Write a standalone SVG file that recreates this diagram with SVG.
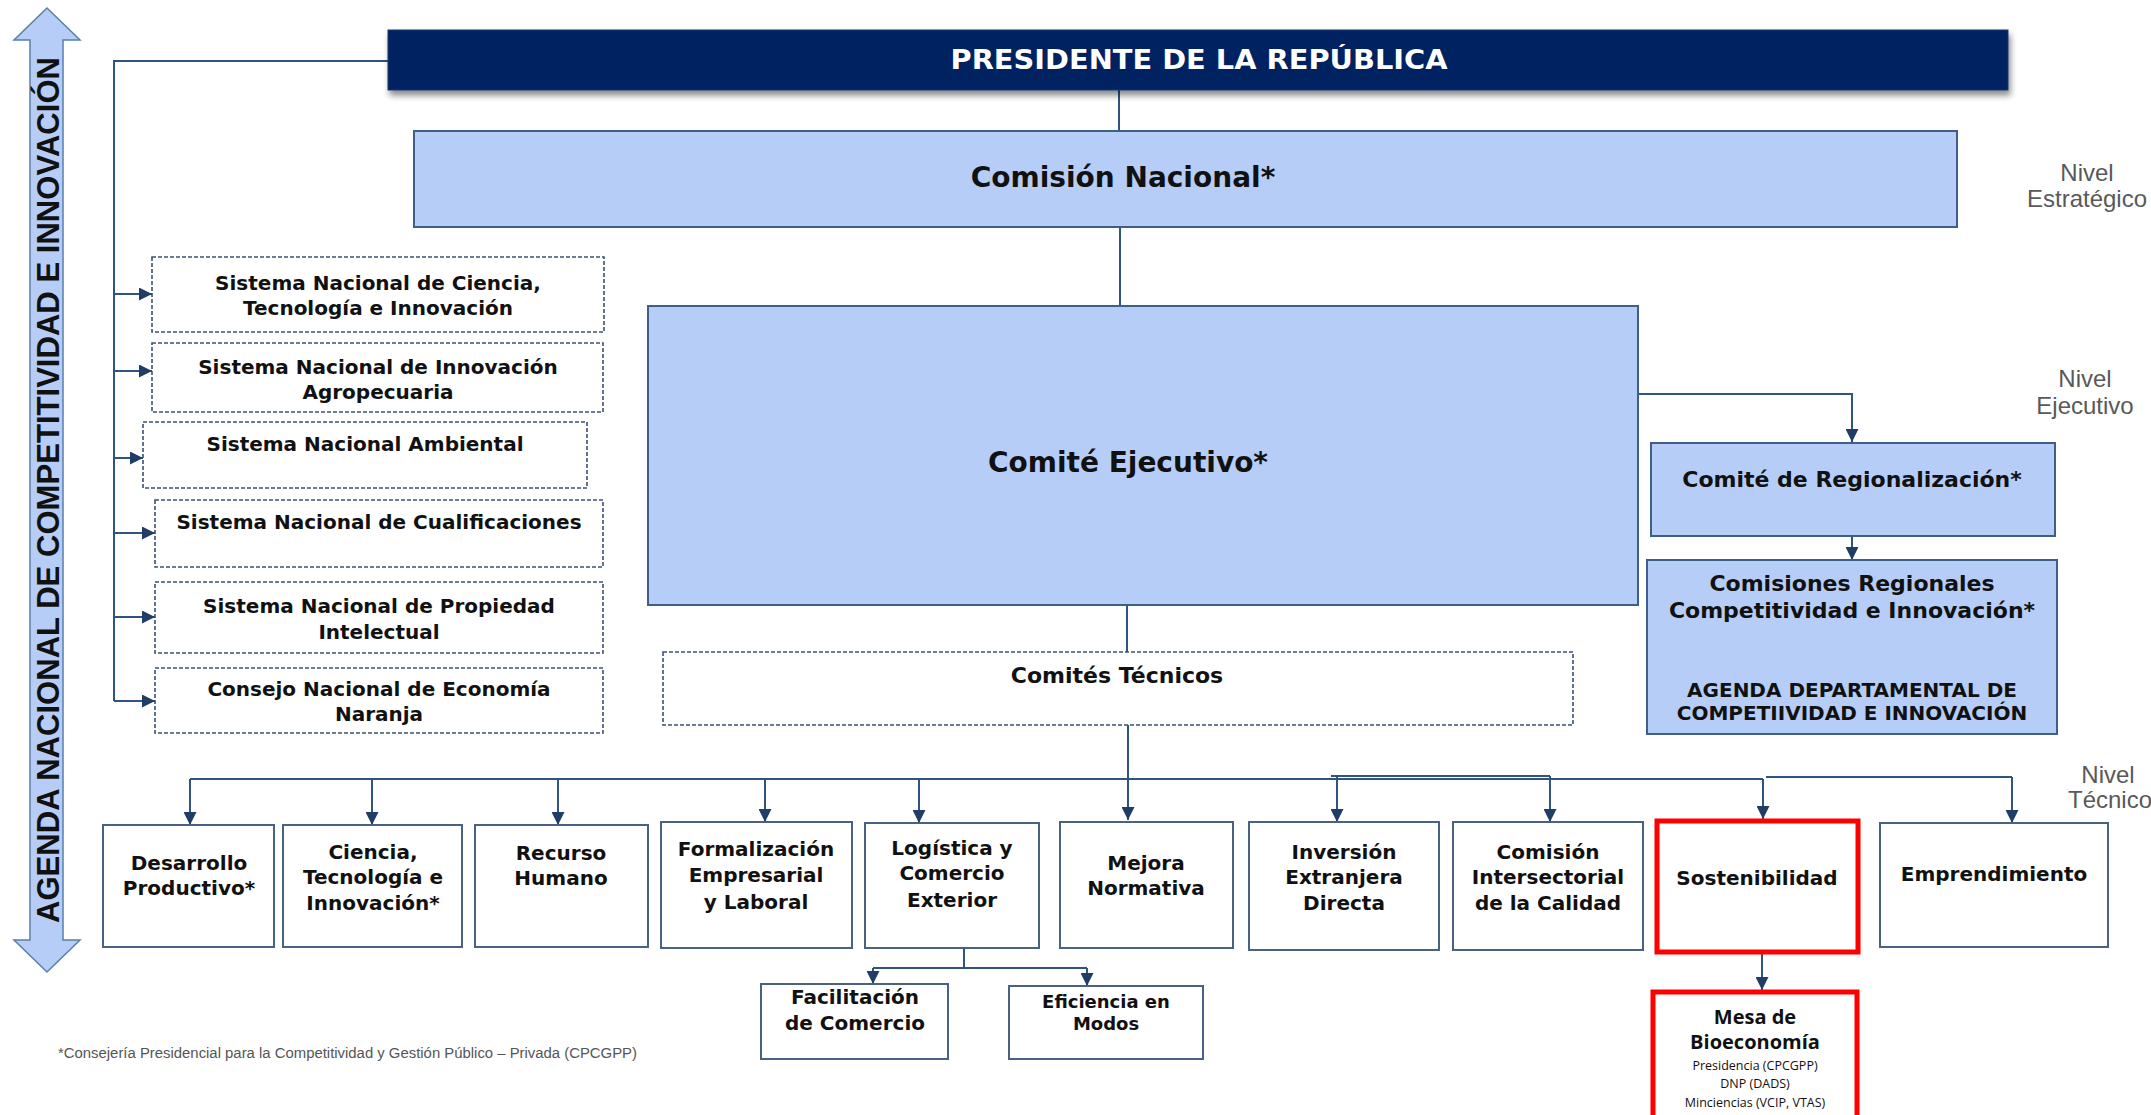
<svg xmlns="http://www.w3.org/2000/svg" width="2151" height="1115" viewBox="0 0 2151 1115">
<defs>
<marker id="ah" viewBox="0 0 10 10" refX="10" refY="5" markerWidth="13" markerHeight="13" markerUnits="userSpaceOnUse" orient="auto">
<path d="M0,0 L10,5 L0,10 z" fill="#1f3d66"/>
</marker>
<filter id="sh" x="-5%" y="-30%" width="110%" height="180%">
<feDropShadow dx="2" dy="5" stdDeviation="3" flood-color="#000" flood-opacity="0.45"/>
</filter>
<style>
.t{font-family:"DejaVu Sans",Verdana,sans-serif;font-weight:bold;fill:#111;text-anchor:middle;font-size:20px}
.s18{font-size:18px}
.s22{font-size:22px}
.s28{font-size:28px}
.wt{fill:#fff}
.lb{fill:#b6cdf7;stroke:#3f5f8a;stroke-width:2}
.wb{fill:#fff;stroke:#4a6282;stroke-width:2}
.db{fill:#fff;stroke:#3b5270;stroke-width:1.6;stroke-dasharray:4 2}
.rb{fill:#fff;stroke:#ff0000;stroke-width:5}
.c{fill:none;stroke:#2f5480;stroke-width:2}
.ca{fill:none;stroke:#2f5480;stroke-width:2;marker-end:url(#ah)}
.nv{font-family:"Liberation Sans",Arial,sans-serif;font-size:24px;fill:#595959;text-anchor:middle}
.ms{font-family:"Open Sans","Noto Sans",sans-serif;text-anchor:middle;fill:#111}
.mt{font-size:20px;font-weight:bold}
.mx{font-size:12.5px}
</style>
</defs>
<rect width="2151" height="1115" fill="#fff"/>

<g id="agenda-arrow">
<polygon points="47,8 80,40 63,40 63,940 80,940 47,972 14,940 30,940 30,40 14,40" fill="#b6cdf7" stroke="#5a7fa8" stroke-width="1.5"/>
<text transform="translate(59,490) rotate(-90)" font-family="Liberation Sans, Arial, sans-serif" font-weight="bold" font-size="32" text-anchor="middle" textLength="866" lengthAdjust="spacingAndGlyphs" fill="#111">AGENDA NACIONAL DE COMPETITIVIDAD E INNOVACIÓN</text>
</g>

<g id="connectors">
<polyline class="c" points="388,61 114,61 114,701"/>
<line class="ca" x1="114" y1="294" x2="152" y2="294"/>
<line class="ca" x1="114" y1="371" x2="152" y2="371"/>
<line class="ca" x1="114" y1="458" x2="143" y2="458"/>
<line class="ca" x1="114" y1="533" x2="155" y2="533"/>
<line class="ca" x1="114" y1="617" x2="155" y2="617"/>
<line class="ca" x1="114" y1="701" x2="155" y2="701"/>
<line class="c" x1="1119" y1="90" x2="1119" y2="131"/>
<line class="c" x1="1120" y1="227" x2="1120" y2="306"/>
<line class="c" x1="1127" y1="605" x2="1127" y2="652"/>
<line class="ca" x1="1128" y1="725" x2="1128" y2="820"/>
<polyline class="ca" points="1638,394 1852,394 1852,442"/>
<line class="ca" x1="1852" y1="536" x2="1852" y2="560"/>
<line class="c" x1="190" y1="779" x2="1763" y2="779"/>
<line class="c" x1="1331" y1="776" x2="1550" y2="776" stroke-width="3"/>
<line class="c" x1="1766" y1="777" x2="2012" y2="777" stroke-width="3"/>
<line class="ca" x1="190" y1="779" x2="190" y2="825"/>
<line class="ca" x1="372" y1="779" x2="372" y2="825"/>
<line class="ca" x1="558" y1="779" x2="558" y2="825"/>
<line class="ca" x1="765" y1="779" x2="765" y2="822"/>
<line class="ca" x1="919" y1="779" x2="919" y2="823"/>
<line class="ca" x1="1337" y1="776" x2="1337" y2="822"/>
<line class="ca" x1="1550" y1="776" x2="1550" y2="822"/>
<line class="ca" x1="1763" y1="779" x2="1763" y2="819"/>
<line class="ca" x1="2012" y1="777" x2="2012" y2="823"/>
<polyline class="c" points="964,948 964,968" stroke-width="3"/>
<line class="c" x1="873" y1="968" x2="1087" y2="968" stroke-width="3"/>
<line class="ca" x1="873" y1="968" x2="873" y2="984"/>
<line class="ca" x1="1087" y1="968" x2="1087" y2="986"/>
<line class="ca" x1="1762" y1="952" x2="1762" y2="990"/>
</g>

<g id="presidente">
<rect x="388" y="30" width="1620" height="60" fill="#002060" stroke="#1c3a6a" stroke-width="1" filter="url(#sh)"/>
<text class="t wt" x="1199" y="69" style="font-size:27px" textLength="497" lengthAdjust="spacingAndGlyphs">PRESIDENTE DE LA REPÚBLICA</text>
</g>

<g id="comision-nacional">
<rect class="lb" x="414" y="131" width="1543" height="96"/>
<text class="t s28" x="1123" y="187">Comisión Nacional*</text>
</g>

<g id="comite-ejecutivo">
<rect class="lb" x="648" y="306" width="990" height="299"/>
<text class="t s28" x="1128" y="472">Comité Ejecutivo*</text>
</g>

<g id="comites-tecnicos">
<rect class="db" x="663" y="652" width="910" height="73"/>
<text class="t s22" x="1117" y="683">Comités Técnicos</text>
</g>

<g id="snct">
<rect class="db" x="152" y="257" width="452" height="75"/>
<text class="t" x="378" y="290">Sistema Nacional de Ciencia,</text>
<text class="t" x="378" y="315">Tecnología e Innovación</text>
</g>
<g id="snia">
<rect class="db" x="152" y="343" width="451" height="69"/>
<text class="t" x="378" y="374">Sistema Nacional de Innovación</text>
<text class="t" x="378" y="399">Agropecuaria</text>
</g>
<g id="sna">
<rect class="db" x="143" y="422" width="444" height="66"/>
<text class="t" x="365" y="451">Sistema Nacional Ambiental</text>
</g>
<g id="snc">
<rect class="db" x="155" y="500" width="448" height="67"/>
<text class="t" x="379" y="529">Sistema Nacional de Cualificaciones</text>
</g>
<g id="snpi">
<rect class="db" x="155" y="582" width="448" height="71"/>
<text class="t" x="379" y="613">Sistema Nacional de Propiedad</text>
<text class="t" x="379" y="639">Intelectual</text>
</g>
<g id="cnen">
<rect class="db" x="155" y="668" width="448" height="65"/>
<text class="t" x="379" y="696">Consejo Nacional de Economía</text>
<text class="t" x="379" y="721">Naranja</text>
</g>

<g id="comite-regionalizacion">
<rect class="lb" x="1651" y="443" width="404" height="93"/>
<text class="t s22" x="1852" y="487">Comité de Regionalización*</text>
</g>
<g id="comisiones-regionales">
<rect class="lb" x="1647" y="560" width="410" height="174"/>
<text class="t s22" x="1852" y="591">Comisiones Regionales</text>
<text class="t s22" x="1852" y="618">Competitividad e Innovación*</text>
<text class="t" x="1852" y="697">AGENDA DEPARTAMENTAL DE</text>
<text class="t" x="1852" y="720">COMPETIIVIDAD E INNOVACIÓN</text>
</g>

<g id="desarrollo-productivo">
<rect class="wb" x="103" y="825" width="171" height="122"/>
<text class="t" x="189" y="870">Desarrollo</text>
<text class="t" x="189" y="895">Productivo*</text>
</g>
<g id="ciencia-tecnologia">
<rect class="wb" x="283" y="825" width="179" height="122"/>
<text class="t" x="373" y="859">Ciencia,</text>
<text class="t" x="373" y="884">Tecnología e</text>
<text class="t" x="373" y="910">Innovación*</text>
</g>
<g id="recurso-humano">
<rect class="wb" x="475" y="825" width="173" height="122"/>
<text class="t" x="561" y="860">Recurso</text>
<text class="t" x="561" y="885">Humano</text>
</g>
<g id="formalizacion">
<rect class="wb" x="661" y="822" width="191" height="126"/>
<text class="t" x="756" y="856">Formalización</text>
<text class="t" x="756" y="882">Empresarial</text>
<text class="t" x="756" y="909">y Laboral</text>
</g>
<g id="logistica">
<rect class="wb" x="865" y="823" width="174" height="125"/>
<text class="t" x="952" y="855">Logística y</text>
<text class="t" x="952" y="880">Comercio</text>
<text class="t" x="952" y="907">Exterior</text>
</g>
<g id="mejora-normativa">
<rect class="wb" x="1060" y="822" width="173" height="126"/>
<text class="t" x="1146" y="870">Mejora</text>
<text class="t" x="1146" y="895">Normativa</text>
</g>
<g id="inversion">
<rect class="wb" x="1249" y="822" width="190" height="128"/>
<text class="t" x="1344" y="859">Inversión</text>
<text class="t" x="1344" y="884">Extranjera</text>
<text class="t" x="1344" y="910">Directa</text>
</g>
<g id="calidad">
<rect class="wb" x="1453" y="822" width="190" height="128"/>
<text class="t" x="1548" y="859">Comisión</text>
<text class="t" x="1548" y="884">Intersectorial</text>
<text class="t" x="1548" y="910">de la Calidad</text>
</g>
<g id="sostenibilidad">
<rect class="rb" x="1657" y="821" width="201" height="131"/>
<text class="t" x="1757" y="885">Sostenibilidad</text>
</g>
<g id="emprendimiento">
<rect class="wb" x="1880" y="823" width="228" height="124"/>
<text class="t" x="1994" y="881">Emprendimiento</text>
</g>
<g id="facilitacion">
<rect class="wb" x="761" y="984" width="187" height="75"/>
<text class="t" x="855" y="1004">Facilitación</text>
<text class="t" x="855" y="1030">de Comercio</text>
</g>
<g id="eficiencia">
<rect class="wb" x="1009" y="986" width="194" height="73"/>
<text class="t s18" x="1106" y="1008">Eficiencia en</text>
<text class="t s18" x="1106" y="1030">Modos</text>
</g>
<g id="mesa-bioeconomia">
<rect class="rb" x="1653" y="992" width="204" height="130"/>
<text class="ms mt" x="1755" y="1024">Mesa de</text>
<text class="ms mt" x="1755" y="1049">Bioeconomía</text>
<text class="ms mx" x="1755" y="1070">Presidencia (CPCGPP)</text>
<text class="ms mx" x="1755" y="1088">DNP (DADS)</text>
<text class="ms mx" x="1755" y="1107">Minciencias (VCIP, VTAS)</text>
</g>

<g id="niveles">
<text class="nv" x="2087" y="181">Nivel</text>
<text class="nv" x="2087" y="207">Estratégico</text>
<text class="nv" x="2085" y="387">Nivel</text>
<text class="nv" x="2085" y="414">Ejecutivo</text>
<text class="nv" x="2108" y="783">Nivel</text>
<text class="nv" x="2110" y="808">Técnico</text>
</g>

<text id="footnote" x="58" y="1058" font-family="Liberation Sans, Arial, sans-serif" font-size="14" fill="#555" textLength="579" lengthAdjust="spacingAndGlyphs">*Consejería Presidencial para la Competitividad y Gestión Público – Privada (CPCGPP)</text>
</svg>
